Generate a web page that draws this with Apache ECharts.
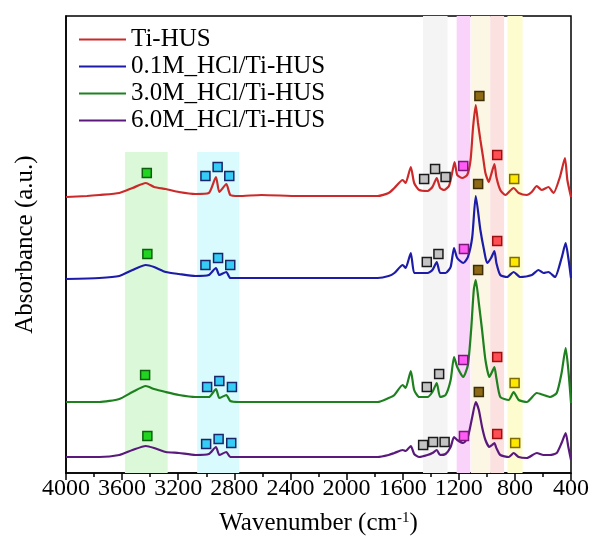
<!DOCTYPE html>
<html>
<head>
<meta charset="utf-8">
<script src="https://cdn.jsdelivr.net/npm/echarts@6/dist/echarts.min.js"></script>
<style>
html,body{margin:0;padding:0;background:#fff;}
#chart{width:592px;height:542px;}
</style>
</head>
<body>
<div id="chart"></div>
<script>
// ---------- data (wavenumber cm-1, absorbance a.u., offset stacked) ----------
const seriesNames = ["Ti-HUS", "0.1M_HCl/Ti-HUS", "3.0M_HCl/Ti-HUS", "6.0M_HCl/Ti-HUS"];
const xTicks = [4000, 3600, 3200, 2800, 2400, 2000, 1600, 1200, 800, 400];

const tiHUS = [
  [4000,2.76],[3850,2.77],[3762,2.78],[3620,2.80],[3526,2.85],[3431,2.90],[3372,2.86],[3289,2.84],[3195,2.81],[3077,2.79],
  [2982,2.80],[2931,2.96],[2907,2.81],[2857,2.89],[2829,2.78],[2770,2.77],[2607,2.78],[2345,2.77],[2061,2.77],[1900,2.77],
  [1778,2.77],[1700,2.80],[1659,2.85],[1600,2.93],[1579,2.90],[1542,3.06],[1518,2.90],[1482,2.83],[1423,2.82],[1388,2.86],
  [1357,2.95],[1333,2.85],[1305,2.83],[1270,2.87],[1246,3.01],[1230,3.11],[1211,2.98],[1175,2.95],[1140,2.98],[1116,3.13],
  [1098,3.46],[1079,3.68],[1063,3.50],[1046,3.33],[1027,3.16],[1010,3.00],[986,2.91],[970,2.98],[946,3.09],[932,2.96],
  [904,2.83],[868,2.78],[856,2.79],[809,2.85],[773,2.80],[715,2.78],[680,2.81],[644,2.87],[609,2.83],[561,2.86],
  [525,2.80],[479,2.96],[443,3.15],[426,2.93],[400,2.76]
];
const hcl01 = [
  [4000,1.94],[3762,1.95],[3620,1.97],[3526,2.03],[3431,2.08],[3372,2.06],[3289,2.01],[3195,1.99],[3077,1.97],[2982,1.98],
  [2931,2.05],[2907,1.98],[2857,2.01],[2829,1.95],[2770,1.95],[2400,1.95],[2000,1.95],[1778,1.95],[1700,1.97],[1659,2.00],
  [1600,2.08],[1579,2.05],[1542,2.20],[1518,2.00],[1482,2.00],[1423,2.00],[1388,2.03],[1357,2.11],[1333,2.00],[1294,2.00],
  [1258,2.06],[1234,2.25],[1211,2.15],[1168,2.10],[1135,2.16],[1104,2.36],[1079,2.77],[1046,2.43],[1020,2.23],[998,2.10],
  [970,2.15],[946,2.22],[932,2.10],[904,1.98],[856,1.96],[809,2.01],[762,1.96],[679,1.98],[632,2.03],[596,2.00],
  [561,2.01],[514,1.96],[467,2.15],[438,2.30],[419,2.15],[400,1.95]
];
const hcl30 = [
  [4000,0.71],[3762,0.71],[3620,0.74],[3526,0.81],[3431,0.87],[3372,0.84],[3289,0.81],[3195,0.78],[3077,0.76],[2982,0.76],
  [2931,0.84],[2907,0.75],[2857,0.78],[2829,0.72],[2770,0.71],[2400,0.71],[2000,0.71],[1778,0.71],[1700,0.75],[1659,0.78],
  [1600,0.88],[1579,0.85],[1542,1.02],[1518,0.83],[1482,0.76],[1423,0.76],[1388,0.81],[1357,0.90],[1333,0.76],[1294,0.78],
  [1258,0.93],[1234,1.16],[1211,1.06],[1168,0.96],[1135,1.08],[1112,1.43],[1093,1.83],[1079,1.93],[1057,1.70],[1034,1.43],
  [1010,1.13],[982,0.96],[963,1.01],[946,1.06],[932,0.95],[904,0.76],[844,0.73],[809,0.81],[773,0.73],[715,0.71],
  [644,0.80],[596,0.78],[550,0.76],[502,0.80],[467,1.00],[438,1.25],[419,1.03],[400,0.70]
];
const hcl60 = [
  [4000,0.16],[3762,0.16],[3620,0.18],[3526,0.23],[3431,0.27],[3372,0.25],[3289,0.21],[3195,0.20],[3077,0.18],[2982,0.19],
  [2931,0.26],[2907,0.18],[2857,0.21],[2829,0.16],[2770,0.16],[2400,0.16],[2000,0.16],[1778,0.16],[1700,0.18],[1659,0.20],
  [1600,0.23],[1579,0.22],[1542,0.27],[1518,0.19],[1482,0.16],[1423,0.18],[1388,0.20],[1357,0.23],[1333,0.18],[1294,0.19],
  [1258,0.26],[1234,0.36],[1211,0.33],[1168,0.30],[1135,0.36],[1104,0.56],[1079,0.71],[1057,0.63],[1034,0.46],[1010,0.33],
  [982,0.26],[963,0.28],[946,0.30],[932,0.25],[904,0.18],[844,0.16],[809,0.20],[773,0.16],[715,0.15],[644,0.20],
  [596,0.18],[550,0.18],[502,0.20],[467,0.30],[438,0.40],[419,0.26],[400,0.13]
];

// band markers (wavenumber, absorbance) for each assignment
const mkOH    = [[3424,3.00],[3420,2.19],[3436,0.98],[3420,0.37]];
const mkCH    = [[3006,2.97],[2919,3.06],[2836,2.97],[3006,2.08],[2916,2.15],[2829,2.08],
                 [2994,0.86],[2907,0.92],[2817,0.86],[3001,0.29],[2912,0.34],[2822,0.30]];
const mkGrey  = [[1447,2.94],[1369,3.04],[1294,2.96],[1428,2.11],[1345,2.19],[1428,0.86],[1340,0.99],
                 [1454,0.28],[1383,0.31],[1301,0.31]];
const mkPink  = [[1168,3.07],[1163,2.24],[1168,1.13],[1163,0.37]];
const mkBrown = [[1053,3.77],[1062,2.89],[1062,2.03],[1057,0.81]];
const mkRed   = [[926,3.18],[926,2.32],[926,1.16],[926,0.39]];
const mkYel   = [[805,2.94],[802,2.11],[802,0.90],[798,0.30]];

// shaded wavenumber ranges [from, to]
const bandOH = [3580, 3275], bandCH = [3065, 2765], bandGrey = [1455, 1280], bandPink = [1215, 1118],
      bandBeige = [1113, 976], bandRed = [976, 877], bandYel = [853, 745];
const shortBandTop = 3.21;

// ---------- chart ----------
const chart = echarts.init(document.getElementById('chart'), null, {renderer: 'canvas'});
const FONT = '"Liberation Serif", "Times New Roman", serif';
const lineColors = ['#cc2a2a', '#1c1ca8', '#1f801f', '#5a1a7c'];
const lineData = [tiHUS, hcl01, hcl30, hcl60];

function full(b, color) { return [{xAxis: b[0], itemStyle: {color}}, {xAxis: b[1]}]; }
function part(b, color) { return [{xAxis: b[0], yAxis: shortBandTop, itemStyle: {color}}, {xAxis: b[1], yAxis: 0}]; }

function marker(name, data, fill, border) {
  return {
    name, type: 'scatter', data, symbol: 'rect', symbolSize: 9, z: 5,
    itemStyle: {color: fill, borderColor: border, borderWidth: 1.5, opacity: 1},
    emphasis: {disabled: true}, silent: true
  };
}

const series = [
  {
    name: 'bands', type: 'line', data: [], z: 0, silent: true,
    markArea: {
      silent: true,
      data: [
        part(bandOH, '#dbf9d9'), part(bandCH, '#d9fbfd'),
        full(bandGrey, '#f4f4f4'), full(bandPink, '#f9d3f9'), full(bandBeige, '#fcf7e4'),
        full(bandRed, '#fbe2e0'), full(bandYel, '#fdfccf')
      ]
    }
  }
];
lineData.forEach((d, i) => {
  series.push({
    name: seriesNames[i], type: 'line', data: d, symbol: 'none', smooth: 0.2, z: 3,
    lineStyle: {color: lineColors[i], width: 2.2}, itemStyle: {color: lineColors[i]}, silent: true
  });
});
series.push(marker('m1', mkOH, '#22d422', '#0d5e0d'));
series.push(marker('m2', mkCH, '#35cdf5', '#1a2468'));
series.push(marker('m3', mkGrey, '#c3c3c3', '#1a1a1a'));
series.push(marker('m4', mkPink, '#ff5cf6', '#7a1a7a'));
series.push(marker('m5', mkBrown, '#8e6a14', '#3e2e08'));
series.push(marker('m6', mkRed, '#ff4f55', '#9a1010'));
series.push(marker('m7', mkYel, '#ffe800', '#7d6c00'));

chart.setOption({
  animation: false,
  backgroundColor: '#fff',
  grid: {left: 66, right: 18, top: 16, bottom: 69, show: true, borderColor: '#000', borderWidth: 1.5, backgroundColor: 'transparent'},
  legend: {
    data: seriesNames, orient: 'vertical', left: 74, top: 21, itemGap: 0,
    itemWidth: 47, itemHeight: 14, icon: 'path://M0,6 L47,6 L47,8 L0,8 Z',
    textStyle: {fontFamily: FONT, fontSize: 25, color: '#000', lineHeight: 27, padding: [0, 0, 0, 0]},
    selectedMode: false
  },
  xAxis: {
    type: 'value', inverse: true, min: 400, max: 4000, interval: 400,
    name: '{a|Wavenumber (cm}{s|-1}{a|)}', nameLocation: 'middle', nameGap: 38,
    nameTextStyle: {rich: {a: {fontFamily: FONT, fontSize: 25, color: '#000'}, s: {fontFamily: FONT, fontSize: 15, color: '#000', verticalAlign: 'top', padding: [0,0,10,0]}}},
    axisLine: {lineStyle: {color: '#000', width: 1.5}},
    axisTick: {show: true, length: 7, inside: false, lineStyle: {color: '#000', width: 1.5}},
    minorTick: {show: true, splitNumber: 2, length: 4, lineStyle: {color: '#000', width: 1.5}},
    axisLabel: {fontFamily: FONT, fontSize: 24, color: '#000', margin: 4,
      formatter: v => xTicks.includes(v) ? String(v) : ''},
    splitLine: {show: false}
  },
  yAxis: {
    type: 'value', min: 0, max: 4.57,
    name: 'Absorbance (a.u.)', nameLocation: 'middle', nameGap: 28, nameRotate: 90,
    nameTextStyle: {fontFamily: FONT, fontSize: 25, color: '#000'},
    axisLine: {show: true, lineStyle: {color: '#000', width: 1.5}},
    axisTick: {show: false}, axisLabel: {show: false}, splitLine: {show: false}
  },
  series
});
</script>
</body>
</html>
